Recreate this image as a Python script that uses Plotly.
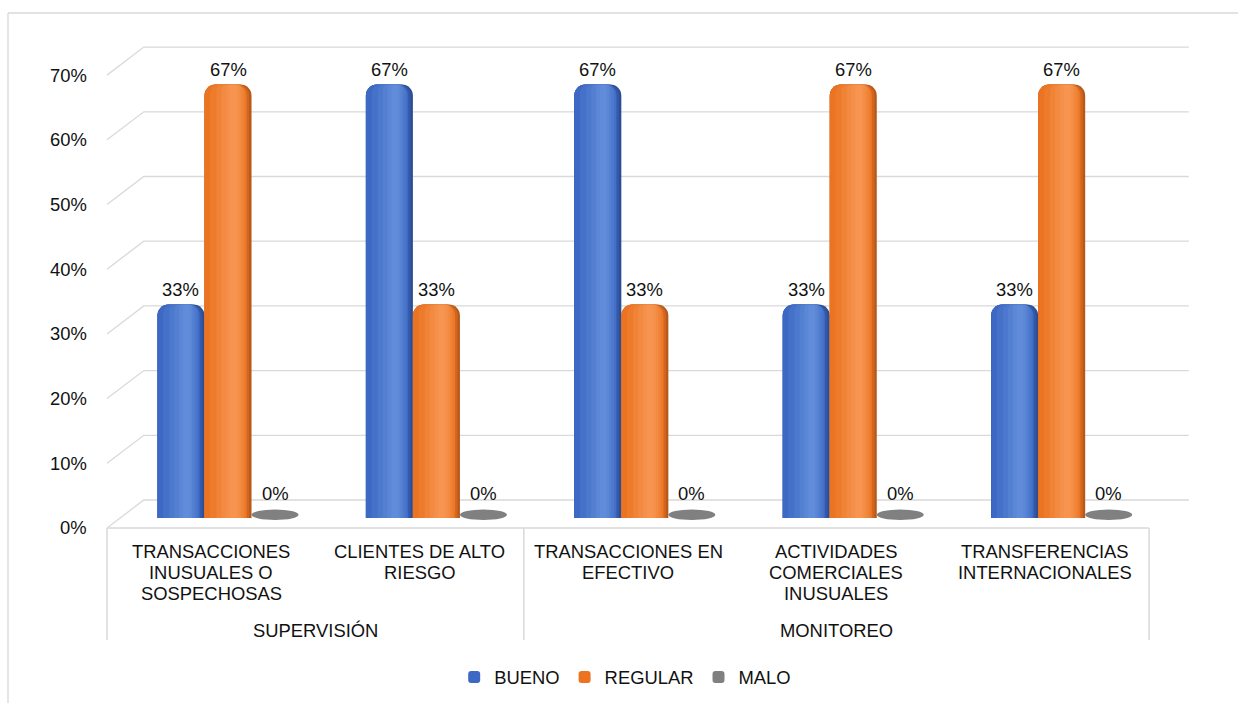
import plotly.graph_objects as go

# ---------------- data ----------------
groups = ["SUPERVISIÓN", "MONITOREO"]
group_sizes = [2, 3]
categories = [
    "TRANSACCIONES\nINUSUALES O\nSOSPECHOSAS",
    "CLIENTES DE ALTO\nRIESGO",
    "TRANSACCIONES EN\nEFECTIVO",
    "ACTIVIDADES\nCOMERCIALES\nINUSUALES",
    "TRANSFERENCIAS\nINTERNACIONALES",
]
bueno = [0.33, 0.67, 0.67, 0.33, 0.33]
regular = [0.67, 0.33, 0.33, 0.67, 0.67]
malo = [0.0, 0.0, 0.0, 0.0, 0.0]
series_names = ["BUENO", "REGULAR", "MALO"]
y_ticks = [0, 0.1, 0.2, 0.3, 0.4, 0.5, 0.6, 0.7]
y_tick_labels = ["0%", "10%", "20%", "30%", "40%", "50%", "60%", "70%"]

# ---------------- style ----------------
main_cols = ["#3D69C4", "#EB7322", "#808080"]
dark_cols = ["#2C4F94", "#B65A1C", "#5F5F5F"]
edge_cols = ["#3459A8", "#D0661F", "#707070"]
light_cols = ["#6A95E0", "#FA9E5C", "#B0B0B0"]
grid_col = "#D9D9D9"
txt_col = "#111111"
FONT = "Liberation Sans, Arial, sans-serif"
FS = 18.4

W, H = 1238, 703
X_RANGE = [-1.094, 4.846]
Y_RANGE = [-0.286, 0.8006]
BARGAP = 0.323
n_series = 3
bw = (1 - BARGAP) / n_series
RADIUS = 11

# 3-D perspective offsets (data units)
FRONT_DX, FRONT_DY = -0.0806, -0.0155
BACK_DX, BACK_DY = 0.096, 0.0278
x_idx = list(range(len(categories)))
x_front_left = -0.5 + FRONT_DX
x_front_right = len(categories) - 0.5 + FRONT_DX
x_back_left = -0.5 + BACK_DX
x_back_right = len(categories) - 0.5 + 0.11

fig = go.Figure()
all_series = [bueno, regular, malo]
# shading bands: (start fraction, end fraction, colour list, opacity, show legend)
bands = [
    (0.0, 1.0, dark_cols, 1.0, False),
    (0.0, 0.95, edge_cols, 1.0, False),
    (0.0, 0.90, main_cols, 1.0, True),
    (0.12, 0.88, light_cols, 0.18, False),
    (0.25, 0.84, light_cols, 0.22, False),
    (0.36, 0.79, light_cols, 0.28, False),
    (0.46, 0.74, light_cols, 0.32, False),
    (0.54, 0.69, light_cols, 0.35, False),
]
for k, (name, vals) in enumerate(zip(series_names, all_series)):
    left = (k - 1) * bw - bw / 2
    for (f0, f1, cols, op, leg) in bands:
        if not leg and max(vals) == 0:
            continue
        span = f1 - f0
        fig.add_trace(go.Bar(
            x=x_idx, y=vals, name=name, legendgroup=name, showlegend=leg,
            offset=left + f0 * bw, width=span * bw,
            marker=dict(color=cols[k], line=dict(width=0), opacity=op,
                        cornerradius=max(3, int(RADIUS * min(1.0, span * 1.15)))),
            hoverinfo="skip",
        ))

shapes = []
annotations = []

# frame of the chart area (left and top edges)
shapes.append(dict(type="line", xref="paper", yref="paper", x0=8 / W, x1=1.2, y0=1 - 13 / H, y1=1 - 13 / H,
                   line=dict(color=grid_col, width=1.3)))
shapes.append(dict(type="line", xref="paper", yref="paper", x0=8 / W, x1=8 / W, y0=-0.1, y1=1 - 13 / H,
                   line=dict(color=grid_col, width=1.3)))

# gridlines with perspective
for v, lab in zip(y_ticks, y_tick_labels):
    shapes.append(dict(
        type="path", xref="x", yref="y", layer="below",
        path=f"M {x_front_left},{v + FRONT_DY} L {x_back_left},{v + BACK_DY} L {x_back_right},{v + BACK_DY}",
        line=dict(color=grid_col, width=1.3),
    ))
    annotations.append(dict(
        x=x_front_left - 0.085, y=v + FRONT_DY, xref="x", yref="y", text=lab, showarrow=False,
        xanchor="right", yanchor="middle", font=dict(family=FONT, size=FS, color=txt_col),
    ))

# floor front edge
shapes.append(dict(type="line", xref="x", yref="y", x0=x_front_left, x1=x_front_right,
                   y0=FRONT_DY, y1=FRONT_DY, line=dict(color=grid_col, width=1.5)))

# group dividers
y_div_bottom = -0.1886
bounds = [0]
for s in group_sizes:
    bounds.append(bounds[-1] + s)
for b in bounds:
    xb = b - 0.5 + FRONT_DX
    shapes.append(dict(type="line", xref="x", yref="y", x0=xb, x1=xb, y0=FRONT_DY, y1=y_div_bottom,
                       line=dict(color=grid_col, width=1.5)))

# category labels (line by line)
line_y0 = -0.0525
line_step = 0.0325
for i, cat in enumerate(categories):
    for j, line in enumerate(cat.split("\n")):
        annotations.append(dict(
            x=i + FRONT_DX, y=line_y0 - j * line_step, xref="x", yref="y", text=line,
            showarrow=False, xanchor="center", yanchor="middle",
            font=dict(family=FONT, size=FS, color=txt_col),
        ))

# group labels
for g, (name, s) in enumerate(zip(groups, group_sizes)):
    xc = (bounds[g] + bounds[g + 1] - 1) / 2 + FRONT_DX
    annotations.append(dict(
        x=xc, y=-0.1735, xref="x", yref="y", text=name, showarrow=False,
        xanchor="center", yanchor="middle", font=dict(family=FONT, size=FS, color=txt_col),
    ))

# data labels and zero-height caps
for k, vals in enumerate(all_series):
    off = (k - 1) * bw
    for i, v in enumerate(vals):
        xc = i + off
        annotations.append(dict(
            x=xc, y=v, xref="x", yref="y", text=f"{round(v * 100)}%", showarrow=False,
            xanchor="center", yanchor="middle", yshift=15 if v > 0 else 24,
            font=dict(family=FONT, size=FS, color=txt_col),
        ))
        if v == 0:
            shapes.append(dict(
                type="circle", xref="x", yref="y",
                x0=xc - bw / 2, x1=xc + bw / 2, y0=-0.003, y1=0.013,
                fillcolor=main_cols[k], line=dict(width=0),
            ))

fig.update_layout(
    width=W, height=H,
    margin=dict(l=0, r=0, t=0, b=0),
    paper_bgcolor="white", plot_bgcolor="white",
    barmode="overlay",
    xaxis=dict(range=X_RANGE, visible=False, fixedrange=True),
    yaxis=dict(range=Y_RANGE, visible=False, fixedrange=True),
    shapes=shapes, annotations=annotations,
    showlegend=True,
    legend=dict(orientation="h", x=0.505, xanchor="center", y=1 - 677 / H, yanchor="middle",
                font=dict(family=FONT, size=FS, color=txt_col), bgcolor="rgba(0,0,0,0)",
                itemwidth=30, tracegroupgap=0),
    font=dict(family=FONT, size=FS, color=txt_col),
)

fig.write_html("out.html")
